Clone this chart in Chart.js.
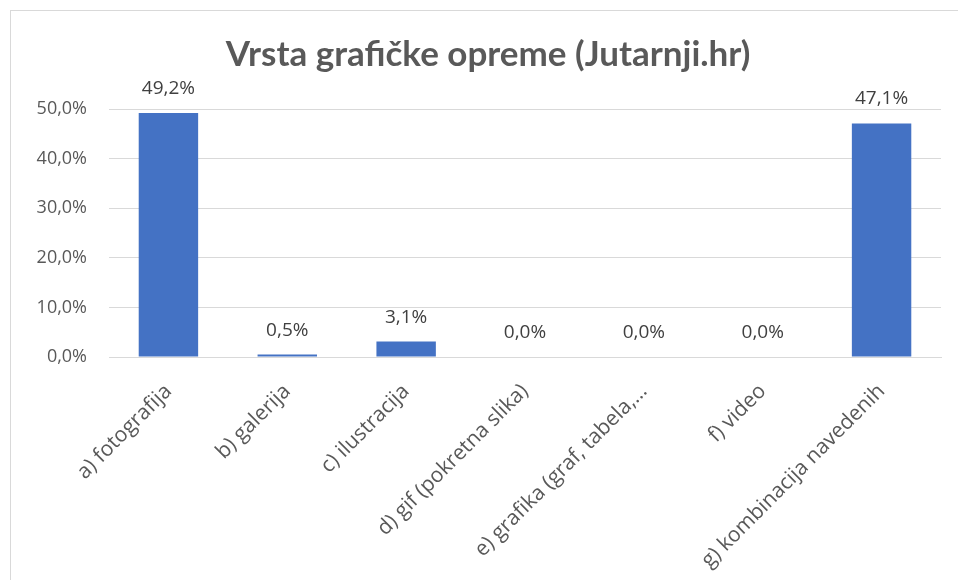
<!DOCTYPE html>
<html>
<head>
<meta charset="utf-8">
<script src="https://cdn.jsdelivr.net/npm/chart.js@4"></script>
<style>
    html, body { margin: 0; padding: 0; background: #fff; }
    #wrap { position: relative; width: 958px; height: 580px; overflow: hidden; }
    #frame {
        position: absolute; left: 10px; top: 10px; width: 1000px; height: 700px;
        border: 1px solid #d9d9d9; box-sizing: border-box;
    }
    #chart { position: absolute; left: 0; top: 0; }
</style>
</head>
<body>
<div id="wrap">
    <div id="frame"></div>
    <canvas id="chart" width="958" height="580"></canvas>
</div>
<script>
// chart data
const categories = [
    "a) fotografija",
    "b) galerija",
    "c) ilustracija",
    "d) gif (pokretna slika)",
    "e) grafika (graf, tabela,\u2026",
    "f) video",
    "g) kombinacija navedenih",
];
const shares = [49.2, 0.5, 3.1, 0.0, 0.0, 0.0, 47.1];
const yTicks = [0, 10, 20, 30, 40, 50];
const titleText = "Vrsta grafičke opreme (Jutarnji.hr)";

const TEXT = "#595959";
const GRID = "#d9d9d9";
const BAR = "#4472C4";

function pct(v) {
    return v.toFixed(1).replace(".", ",") + "%";
}

// title is centred on the whole frame, not on the canvas minus padding
const frameTitle = {
    id: "frameTitle",
    afterDraw(chart) {
        const ctx = chart.ctx;
        ctx.save();
        ctx.font = "bold 35px Lato";
        ctx.fillStyle = TEXT;
        ctx.textAlign = "center";
        ctx.textBaseline = "alphabetic";
        ctx.fillText(titleText, 488, 66);
        ctx.restore();
    },
};

// draws the value above every bar
const barLabels = {
    id: "barLabels",
    afterDatasetsDraw(chart) {
        const ctx = chart.ctx;
        const meta = chart.getDatasetMeta(0);
        ctx.save();
        ctx.font = "19px 'Open Sans'";
        ctx.fillStyle = "#404040";
        ctx.textAlign = "center";
        ctx.textBaseline = "alphabetic";
        meta.data.forEach((bar, i) => {
            ctx.fillText(pct(shares[i]), bar.x, bar.y - 19);
        });
        ctx.restore();
    },
};

new Chart(document.getElementById("chart").getContext("2d"), {
    type: "bar",
    data: {
        labels: categories,
        datasets: [
            {
                data: shares,
                backgroundColor: BAR,
                categoryPercentage: 0.5,
                barPercentage: 1,
            },
        ],
    },
    options: {
        responsive: false,
        animation: false,
        layout: {
            padding: { left: 10, right: 17, top: 109, bottom: 0 },
        },
        plugins: {
            legend: { display: false },
            tooltip: { enabled: false },
            title: { display: false },
        },
        scales: {
            x: {
                grid: { display: false },
                border: { color: GRID },
                afterFit(scale) {
                    scale.height = 223;
                },
                ticks: {
                    color: TEXT,
                    font: { family: "Open Sans", size: 21 },
                    minRotation: 45,
                    maxRotation: 45,
                    padding: 14,
                },
            },
            y: {
                min: 0,
                max: 50,
                afterBuildTicks(scale) {
                    scale.ticks = yTicks.map((v) => ({ value: v }));
                },
                afterFit(scale) {
                    scale.width = 99;
                },
                grid: { color: GRID, drawTicks: false },
                border: { display: false },
                ticks: {
                    color: TEXT,
                    font: { family: "Open Sans", size: 18 },
                    padding: 22,
                    callback: (v) => pct(v),
                },
            },
        },
    },
    plugins: [barLabels, frameTitle],
});
</script>
</body>
</html>
